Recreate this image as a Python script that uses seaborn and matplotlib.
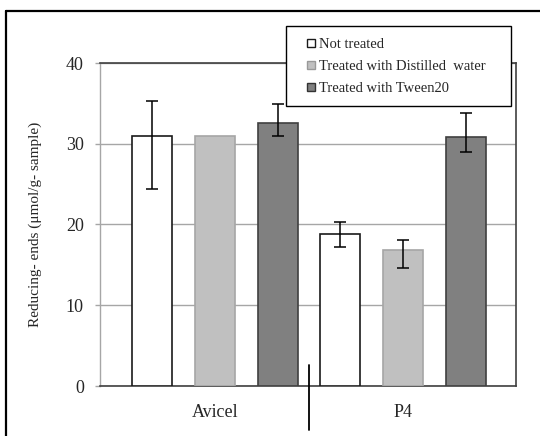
import matplotlib
matplotlib.use("Agg")
import matplotlib.pyplot as plt
import seaborn as sns
import pandas as pd
import numpy as np
from matplotlib.lines import Line2D

# ---- data ----
categories = ["Avicel", "P4"]
treatments = ["Not treated", "Treated with Distilled  water", "Treated with Tween20"]
not_treated = [30.9, 18.8]
distilled = [30.9, 16.8]
tween = [32.6, 30.8]
err_low_not = [6.5, 1.6]
err_up_not = [4.4, 1.5]
err_low_dist = [0.0, 2.2]
err_up_dist = [0.0, 1.3]
err_low_tween = [1.7, 1.8]
err_up_tween = [2.3, 3.0]
yticks = [0, 10, 20, 30, 40]
ylabel = "Reducing- ends (\u03bcmol/g- sample)"

fills = ["#FFFFFF", "#C0C0C0", "#808080"]
edges = ["#1a1a1a", "#A6A6A6", "#404040"]

df = pd.DataFrame({
    "sample": categories * 3,
    "treatment": [t for t in treatments for _ in categories],
    "value": not_treated + distilled + tween,
})
errs_low = [err_low_not, err_low_dist, err_low_tween]
errs_up = [err_up_not, err_up_dist, err_up_tween]

sns.set_style("white")
plt.rcParams["font.family"] = ["Liberation Serif", "DejaVu Serif"]

fig = plt.figure(figsize=(5.4, 4.36), dpi=100)
ax = fig.add_axes([100 / 540, 1 - 386 / 436, 416 / 540, 323 / 436])

sns.barplot(data=df, x="sample", y="value", hue="treatment", hue_order=treatments,
            order=categories, palette=fills, width=1.0, gap=0.36, errorbar=None,
            legend=False, ax=ax, zorder=3)

for cont, ec, lo, up in zip(ax.containers, edges, errs_low, errs_up):
    xs = []
    ys = []
    for p in cont.patches:
        p.set_edgecolor(ec)
        p.set_linewidth(1.2)
        xs.append(p.get_x() + p.get_width() / 2)
        ys.append(p.get_height())
    lo = np.array(lo)
    up = np.array(up)
    mask = (lo + up) > 0
    ax.errorbar(np.array(xs)[mask], np.array(ys)[mask],
                yerr=[lo[mask], up[mask]], fmt="none", ecolor="black",
                elinewidth=1.1, capsize=4, capthick=1.1, zorder=4)

ax.set_ylim(0, 40)
ax.set_xlim(-0.612, 1.601)
ax.set_yticks(yticks)
ax.set_yticklabels([str(t) for t in yticks], fontsize=13)
ax.yaxis.grid(True, color="#A6A6A6", linewidth=1.0, zorder=0)
ax.set_axisbelow(True)
ax.tick_params(axis="y", which="both", left=True, length=3.6, width=1, color="#A6A6A6", pad=8)
ax.tick_params(axis="x", length=0, pad=13, labelsize=13)
ax.set_xlabel("")
ax.set_ylabel(ylabel, fontsize=11, labelpad=17)

for side in ["top", "right", "bottom"]:
    ax.spines[side].set_visible(True)
    ax.spines[side].set_color("#404040")
    ax.spines[side].set_linewidth(1.2)
ax.spines["left"].set_color("#A6A6A6")
ax.spines["left"].set_linewidth(1.0)

# separator line between categories
mid = (0 + len(categories) - 1) / 2
ax.plot([mid, mid], [2.6, -5.4], color="black", linewidth=1.3, clip_on=False, zorder=5)

# legend
handle_edges = ["#1a1a1a", "#999999", "#333333"]
handles = [Line2D([], [], linestyle="none", marker="s", markersize=5.2,
                  markerfacecolor=f, markeredgecolor=e, markeredgewidth=1.0)
           for f, e in zip(fills, handle_edges)]
leg = fig.legend(handles, treatments, loc="upper left",
                 bbox_to_anchor=(285.5 / 540, 1 - 26.5 / 436, 225 / 540, 0.0),
                 mode="expand", borderaxespad=0, fontsize=10.5, frameon=True,
                 fancybox=False, edgecolor="black", handlelength=2.0,
                 handletextpad=-0.45, labelspacing=0.6, borderpad=0.78)
leg.get_frame().set_linewidth(1.0)
leg.get_frame().set_facecolor("white")
leg.get_frame().set_alpha(1)
leg.set_zorder(10)

# outer frame (top and left)
fig.add_artist(Line2D([6 / 540, 1.0], [1 - 11 / 436, 1 - 11 / 436], color="black", linewidth=1.6))
fig.add_artist(Line2D([6 / 540, 6 / 540], [1 - 11 / 436, 0.0], color="black", linewidth=1.6))

fig.savefig("out.png", dpi=100)
